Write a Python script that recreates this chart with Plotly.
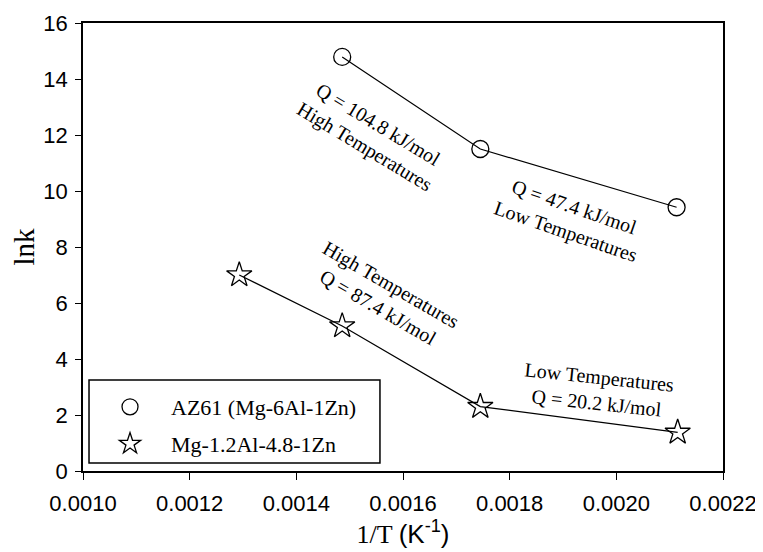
import plotly.graph_objects as go

# data
inv_T_az61 = [0.001486, 0.001745, 0.002113]
lnk_az61 = [14.79, 11.50, 9.42]
inv_T_mg = [0.001293, 0.001486, 0.001745, 0.002115]
lnk_mg = [7.00, 5.18, 2.30, 1.38]

name_az61 = "AZ61 (Mg-6Al-1Zn)"
name_mg = "Mg-1.2Al-4.8-1Zn"

x_ticks = [0.0010, 0.0012, 0.0014, 0.0016, 0.0018, 0.0020, 0.0022]
x_tick_labels = ["0.0010", "0.0012", "0.0014", "0.0016", "0.0018", "0.0020", "0.0022"]
y_ticks = [0, 2, 4, 6, 8, 10, 12, 14, 16]

ann_text = [
    "Q = 104.8 kJ/mol<br>High Temperatures",
    "Q = 47.4 kJ/mol<br>Low Temperatures",
    "High Temperatures<br>Q = 87.4 kJ/mol",
    "Low Temperatures<br>Q = 20.2 kJ/mol",
]
ann_x = [0.001540, 0.001913, 0.001566, 0.001966]
ann_y = [12.0, 8.99, 6.25, 2.89]
ann_angle = [31, 19, 30, 6]

SERIF = "Liberation Serif, Times New Roman, serif"
SANS = "Liberation Sans, Arial, sans-serif"

fig = go.Figure()
# connecting lines (not in legend)
fig.add_trace(go.Scatter(x=inv_T_az61, y=lnk_az61, mode="lines", showlegend=False,
                         line=dict(color="black", width=1.2), hoverinfo="skip"))
fig.add_trace(go.Scatter(x=inv_T_mg, y=lnk_mg, mode="lines", showlegend=False,
                         line=dict(color="black", width=1.2), hoverinfo="skip"))
# markers (in legend)
fig.add_trace(go.Scatter(
    x=inv_T_az61, y=lnk_az61, name=name_az61, mode="markers",
    marker=dict(symbol="circle-open", size=17, color="black", line=dict(width=1.3)),
    legend="legend",
))
fig.add_trace(go.Scatter(
    x=inv_T_mg, y=lnk_mg, name=name_mg, mode="markers",
    marker=dict(symbol="star-open", size=19, color="black", line=dict(width=1.3)),
    legend="legend2",
))

for t, x, y, a in zip(ann_text, ann_x, ann_y, ann_angle):
    fig.add_annotation(x=x, y=y, xref="x", yref="y", text=t, showarrow=False,
                       textangle=a, align="center", xanchor="center", yanchor="middle",
                       font=dict(family=SERIF, size=20, color="black"))

# legend frame
fig.add_shape(type="rect", xref="paper", yref="paper",
              x0=0.0094, x1=0.464, y0=0.0179, y1=0.2031,
              line=dict(color="black", width=1.5), fillcolor="rgba(0,0,0,0)")

leg_common = dict(bgcolor="rgba(0,0,0,0)", borderwidth=0, itemwidth=72,
                  xanchor="left", yanchor="middle",
                  font=dict(family=SERIF, size=22, color="black"))
fig.update_layout(
    width=754, height=543,
    margin=dict(l=75, r=39, t=15, b=80),
    paper_bgcolor="white", plot_bgcolor="white",
    showlegend=True,
    legend=dict(x=0.0094, y=0.1429, **leg_common),
    legend2=dict(x=0.0094, y=0.0603, **leg_common),
    xaxis=dict(range=[0.0010, 0.0022], tickvals=x_ticks, ticktext=x_tick_labels,
               automargin=False,
               showgrid=False, zeroline=False, showline=True, linecolor="black",
               linewidth=1.5, mirror=True, ticks="outside", ticklen=7, tickwidth=1.3,
               tickcolor="black", ticklabelstandoff=5,
               tickfont=dict(family=SANS, size=22, color="black"),
               title=dict(text="1/T <span style='font-family:Liberation Sans, Arial'>(K<sup>-1</sup>)</span>",
                          font=dict(family=SERIF, size=26, color="black"), standoff=8)),
    yaxis=dict(range=[0, 16], tickvals=y_ticks, automargin=False,
               showgrid=False, zeroline=False, showline=True, linecolor="black",
               linewidth=1.5, mirror=True, ticks="outside", ticklen=6, tickwidth=1.3,
               tickcolor="black", ticklabelstandoff=3,
               tickfont=dict(family=SANS, size=22, color="black"),
               title=dict(text="lnk", font=dict(family=SERIF, size=29, color="black"),
                          standoff=4)),
)

fig.write_html("out.html")
